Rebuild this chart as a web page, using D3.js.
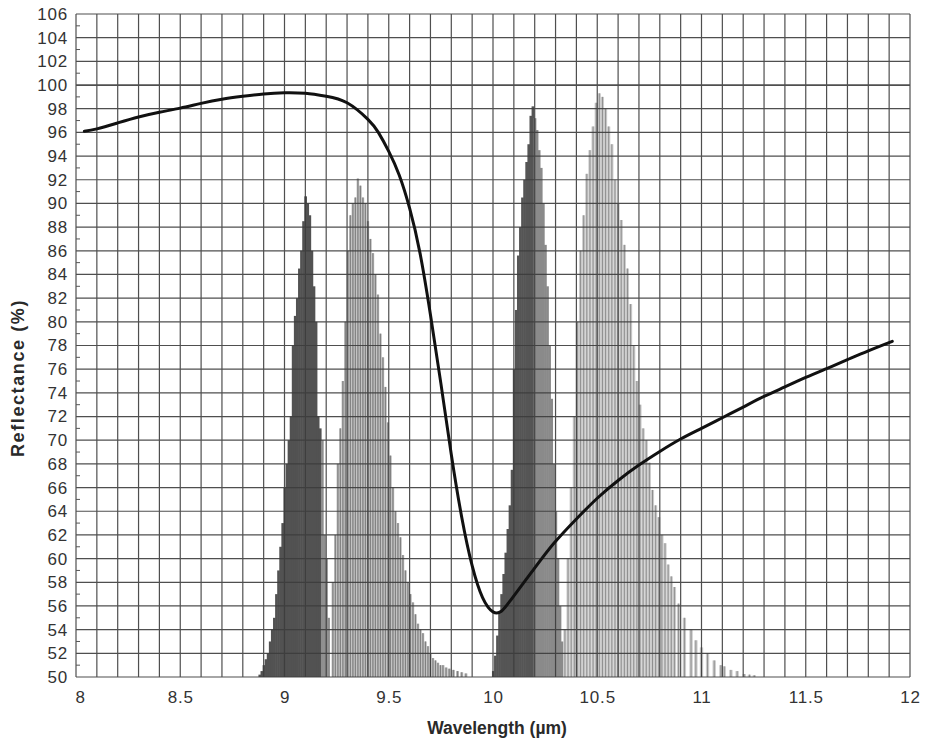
<!DOCTYPE html>
<html><head><meta charset="utf-8">
<script src="https://cdn.jsdelivr.net/npm/d3@7"></script>
<style>body{margin:0;background:#fff}</style>
</head><body><svg id="c" width="934" height="745"></svg>
<script>
// ---- data ----
const xTicks = [8, 8.5, 9, 9.5, 10, 10.5, 11, 11.5, 12];
const yTicks = [50,52,54,56,58,60,62,64,66,68,70,72,74,76,78,80,82,84,86,88,90,92,94,96,98,100,102,104,106];
const xTitle = "Wavelength (\u00b5m)";
const yTitle = "Reflectance (%)";

const curveWavelength  = [8.04,8.1,8.2,8.3,8.4,8.5,8.6,8.7,8.8,8.9,9.0,9.1,9.2,9.3,9.4,9.45,9.5,9.55,9.6,9.65,9.7,9.75,9.8,9.85,9.9,9.95,10.0,10.04,10.085,10.185,10.29,10.4,10.5,10.6,10.7,10.8,10.9,11.0,11.1,11.2,11.3,11.4,11.5,11.6,11.7,11.8,11.915];
const curveReflectance = [96.1,96.3,96.8,97.3,97.7,98.05,98.45,98.8,99.05,99.25,99.35,99.3,99.05,98.5,97.1,96.0,94.4,92.4,89.6,85.8,80.6,74.8,68.8,63.5,59.4,56.7,55.5,55.55,56.5,58.85,61.25,63.35,65.1,66.6,67.9,69.05,70.1,71.0,71.9,72.8,73.7,74.5,75.3,76.05,76.8,77.55,78.35];

// band A: dark lines near 9.1 um
const bandAWavelength = [8.88,8.89,8.90,8.91,8.92,8.93,8.94,8.95,8.96,8.97,8.98,8.99,9.00,9.01,9.02,9.03,9.04,9.05,9.06,9.07,9.08,9.09,9.10,9.11,9.12,9.13,9.14,9.15,9.16,9.17,9.18,9.19,9.20,9.21];
const bandAHeight     = [50.2,50.5,51,51.5,52,53,54,55,57,59,61,63,66,68,70,72,78,80.5,82,84.5,86,88.5,90.6,90,89,86,83,80,72,71,70,62,60,55];
// band B: lighter lines near 9.35 um
const bandBWavelength = [9.232,9.244,9.256,9.268,9.280,9.292,9.304,9.316,9.328,9.340,9.352,9.364,9.376,9.388,9.400,9.412,9.424,9.436,9.448,9.460,9.472,9.484,9.496,9.508,9.520,9.532,9.544,9.556,9.568,9.580,9.592,9.604,9.616,9.628,9.640,9.652,9.664,9.676,9.688,9.700,9.712,9.724,9.736,9.748,9.760,9.775,9.790,9.810,9.830,9.850,9.870];
const bandBHeight     = [58,62,68,71,75,80,86,89,90,90.5,92.1,91.5,90.5,90,88.5,87,85.8,84,82.3,79,77,74.5,71.5,68.7,66,64,63,61.8,60.3,59,58,57,56.3,55.3,54.5,54,53.7,53,52.6,52,51.6,51.4,51.2,51,51,50.8,50.7,50.6,50.5,50.4,50.3];
// band C: dark lines near 10.2 um
const bandCWavelength = [10.00,10.01,10.02,10.03,10.04,10.05,10.06,10.07,10.08,10.09,10.10,10.11,10.12,10.13,10.14,10.15,10.16,10.17,10.18,10.19,10.20,10.21,10.22,10.23,10.24,10.25,10.26,10.27,10.28,10.29,10.30,10.31,10.32,10.33];
const bandCHeight     = [50.5,51.8,53.5,55.5,57,58.7,60.5,62.5,64.5,67.5,76,81,85.6,88,90.5,92,93.5,95,97.4,98.2,97.2,96.2,94.5,93,90,86.5,83,78,73.5,68,64,60,56,53];
// band D: light lines near 10.5 um
const bandDWavelength = [10.345,10.36,10.375,10.39,10.405,10.42,10.435,10.45,10.465,10.48,10.495,10.51,10.525,10.54,10.555,10.57,10.585,10.60,10.615,10.63,10.645,10.66,10.675,10.69,10.705,10.72,10.735,10.75,10.765,10.78,10.795,10.81,10.825,10.84,10.855,10.87,10.89,10.918,10.95,10.973,11.0,11.029,11.061,11.093,11.109,11.141,11.171,11.205,11.23,11.253];
const bandDHeight     = [54,60,66,72,80,86,89,92.5,94.5,96.5,98.5,99.3,99,98,96.5,95,92,90,88.6,86.5,84.5,81.5,78,75,73,71,70,68.1,65.8,64.5,63.5,62,61.3,59.5,58.5,57.6,56.2,55.0,54,53.1,52.5,52,51.4,51,50.9,50.6,50.5,50.25,50.2,50.15];

// ---- layout ----
const M = {left: 76, right: 910, top: 14, bottom: 677};
const svg = d3.select("#c");
const x = d3.scaleLinear().domain([8, 12]).range([M.left, M.right]);
const y = d3.scaleLinear().domain([50, 106]).range([M.bottom, M.top]);

function drawBand(ws, hs, opts) {
  const g = svg.append("g");
  const n = ws.length;
  ws.forEach((w, i) => {
    const prev = i > 0 ? ws[i-1] : null, next = i < n-1 ? ws[i+1] : null;
    let lh = prev !== null ? (w - prev) / 2 : (next - w) / 2;
    let rh = next !== null ? (next - w) / 2 : (w - prev) / 2;
    lh = Math.min(lh, opts.maxHalf); rh = Math.min(rh, opts.maxHalf);
    const x0 = x(w - lh), x1 = x(w + rh);
    const fill = (opts.split !== undefined && w > opts.split) ? opts.fill2 : opts.fill;
    g.append("rect").attr("x", x0).attr("y", y(hs[i])).attr("width", Math.max(0.8, x1 - x0 + opts.overlap))
      .attr("height", y(50) - y(hs[i])).attr("fill", fill);
    if (opts.line) {
      g.append("line").attr("x1", x(w)).attr("x2", x(w)).attr("y1", y(hs[i])).attr("y2", y(50))
        .attr("stroke", opts.line).attr("stroke-width", 0.9);
    }
  });
}

drawBand(bandAWavelength, bandAHeight, {fill: "#525252", fill2: "#8f8f8f", split: 9.175, maxHalf: 0.006, overlap: 0.6});
drawBand(bandBWavelength, bandBHeight, {fill: "#b3b3b3", line: "#777", maxHalf: 0.007, overlap: 0});
drawBand(bandCWavelength, bandCHeight, {fill: "#555", fill2: "#8a8a8a", split: 10.195, maxHalf: 0.006, overlap: 0.6});
drawBand(bandDWavelength, bandDHeight, {fill: "#cbcbcb", line: "#888", maxHalf: 0.008, overlap: 0});

// ---- grid ----
const grid = svg.append("g").attr("stroke", "#3c3c3c").attr("stroke-width", 1.2).attr("opacity", 0.9);
grid.selectAll(".v").data(d3.range(0, 41)).join("line")
  .attr("x1", d => x(8 + d / 10)).attr("x2", d => x(8 + d / 10))
  .attr("y1", y(50)).attr("y2", y(106));
grid.selectAll(".h").data(yTicks).join("line")
  .attr("x1", x(8)).attr("x2", x(12))
  .attr("y1", d => y(d)).attr("y2", d => y(d))
  .attr("stroke-width", d => d === 100 ? 1.8 : 1.2);
// minor ticks on left axis
svg.append("g").selectAll("line").data(yTicks.slice(0, -1)).join("line")
  .attr("x1", x(8)).attr("x2", x(8) + 4)
  .attr("y1", d => y(d + 1)).attr("y2", d => y(d + 1))
  .attr("stroke", "#555").attr("stroke-width", 1);

// ---- curve ----
const pts = curveWavelength.map((w, i) => [w, curveReflectance[i]]);
svg.append("path").datum(pts)
  .attr("d", d3.line().x(d => x(d[0])).y(d => y(d[1])).curve(d3.curveNatural))
  .attr("fill", "none").attr("stroke", "#111").attr("stroke-width", 3).attr("stroke-linecap", "round").attr("stroke-linejoin", "round");

// ---- axes labels ----
const font = "'Liberation Sans', Arial, Helvetica, sans-serif";
const yAxis = d3.axisLeft(y).tickValues(yTicks).tickSize(0).tickPadding(8);
const ya = svg.append("g").attr("transform", `translate(${M.left},0)`).call(yAxis);
ya.select(".domain").remove();
ya.selectAll("text").attr("font-family", font).attr("font-size", 17).attr("letter-spacing", 0.8).attr("fill", "#333");

const xAxis = d3.axisBottom(x).tickValues(xTicks).tickSize(0).tickPadding(14).tickFormat(d3.format("~g"));
const xa = svg.append("g").attr("transform", `translate(0,${M.bottom})`).call(xAxis);
xa.select(".domain").remove();
xa.selectAll("text").attr("font-family", font).attr("font-size", 17).attr("letter-spacing", 0.8).attr("fill", "#333");
xa.selectAll(".tick").filter(d => d === 8).select("text").attr("dx", 4);

svg.append("text").attr("x", 497).attr("y", 734).attr("text-anchor", "middle")
  .attr("font-family", font).attr("font-size", 17.5).attr("font-weight", "bold").attr("fill", "#2a2a2a").text(xTitle);
svg.append("text").attr("transform", "translate(24,378) rotate(-90)").attr("text-anchor", "middle")
  .attr("font-family", font).attr("font-size", 18).attr("letter-spacing", 1.6).attr("font-weight", "bold").attr("fill", "#2a2a2a").text(yTitle);
</script></body></html>
